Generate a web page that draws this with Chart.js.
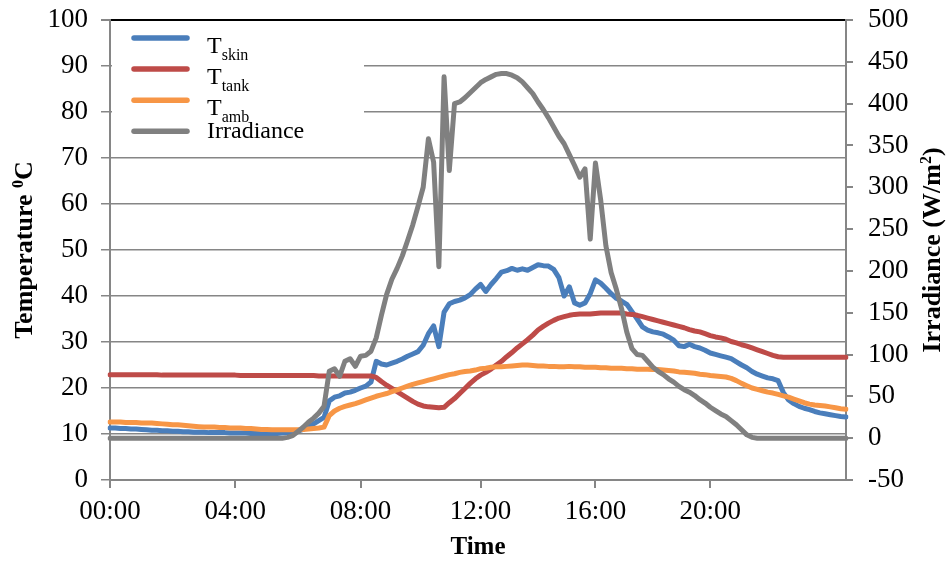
<!DOCTYPE html>
<html>
<head>
<meta charset="utf-8">
<script src="https://cdn.jsdelivr.net/npm/chart.js@4/dist/chart.umd.min.js"></script>
<style>
  body { margin: 0; background: #fff; }
  #wrap { width: 947px; height: 563px; }
</style>
</head>
<body>
<div id="wrap"><canvas id="chart" width="947" height="563"></canvas></div>
<script>
// logger sample times: [start minute, end minute, number of steps]
const sampleBlocks = [[0, 480, 48], [480, 720, 23], [720, 960, 22], [960, 1200, 22], [1200, 1420, 26]];
const xTickLabels = ["00:00", "04:00", "08:00", "12:00", "16:00", "20:00"];

const tSkin = [
  11.3, 11.3, 11.2, 11.2, 11.1, 11.1, 11.0, 10.9, 10.8, 10.8,
  10.7, 10.7, 10.6, 10.6, 10.5, 10.5, 10.4, 10.4, 10.4, 10.3,
  10.3, 10.3, 10.3, 10.2, 10.2, 10.2, 10.2, 10.1, 10.1, 10.1,
  10.1, 10.1, 10.1, 10.2, 10.3, 10.4, 10.6, 11.0, 11.6, 12.2,
  12.9, 13.6, 17.2, 18.0, 18.3, 18.9, 19.1, 19.5, 20.0, 20.4,
  21.3, 25.8, 25.2, 25.0, 25.4, 25.8, 26.3, 26.9, 27.4, 27.9,
  29.3, 31.8, 33.5, 29.0, 36.5, 38.3, 38.8, 39.1, 39.6, 40.3,
  41.5, 42.5, 41.0, 42.5, 43.8, 45.2, 45.5, 46.0, 45.6, 45.9,
  45.6, 46.2, 46.8, 46.6, 46.5, 45.8, 44.0, 40.0, 42.0, 38.5,
  38.0, 38.5, 40.5, 43.5, 42.8, 41.7, 40.5, 39.5, 38.9, 38.2,
  36.6, 35.0, 33.3, 32.6, 32.2, 32.0, 31.7, 31.1, 30.4, 29.2,
  29.0, 29.5, 29.0, 28.7, 28.2, 27.6, 27.3, 27.0, 26.7, 26.4,
  25.7, 25.0, 24.4, 23.6, 23.0, 22.6, 22.2, 22.0, 21.6, 19.0,
  17.4, 16.6, 16.0, 15.6, 15.3, 14.9, 14.6, 14.4, 14.2, 14.0,
  13.8, 13.7
];
const tTank = [
  22.9, 22.9, 22.9, 22.9, 22.9, 22.9, 22.9, 22.9, 22.9, 22.9,
  22.8, 22.8, 22.8, 22.8, 22.8, 22.8, 22.8, 22.8, 22.8, 22.8,
  22.8, 22.8, 22.8, 22.8, 22.8, 22.7, 22.7, 22.7, 22.7, 22.7,
  22.7, 22.7, 22.7, 22.7, 22.7, 22.7, 22.7, 22.7, 22.7, 22.7,
  22.6, 22.6, 22.6, 22.6, 22.6, 22.6, 22.6, 22.6, 22.6, 22.6,
  22.6, 22.3, 21.4, 20.6, 19.9, 19.2, 18.5, 17.8, 17.1, 16.5,
  16.1, 15.9, 15.8, 15.7, 15.8, 16.8, 17.7, 18.8, 19.9, 21.0,
  22.0, 22.8, 23.4, 24.1, 25.0, 25.8, 26.8, 27.7, 28.7, 29.6,
  30.5, 31.5, 32.6, 33.4, 34.1, 34.7, 35.2, 35.5, 35.8, 36.0,
  36.1, 36.1, 36.1, 36.2, 36.3, 36.3, 36.3, 36.3, 36.3, 36.1,
  36.0, 35.8, 35.5, 35.2, 34.9, 34.6, 34.3, 34.0, 33.7, 33.4,
  33.1, 32.7, 32.4, 32.2, 31.8, 31.4, 31.1, 30.9, 30.6, 30.1,
  29.8, 29.4, 29.1, 28.7, 28.3, 27.9, 27.5, 27.1, 26.8, 26.7,
  26.7, 26.7, 26.7, 26.7, 26.7, 26.7, 26.7, 26.7, 26.7, 26.7,
  26.7, 26.7
];
const tAmb = [
  12.6, 12.6, 12.6, 12.5, 12.5, 12.5, 12.4, 12.4, 12.4, 12.3,
  12.2, 12.1, 12.0, 12.0, 11.9, 11.8, 11.7, 11.6, 11.5, 11.5,
  11.5, 11.4, 11.4, 11.3, 11.3, 11.3, 11.2, 11.2, 11.1, 11.0,
  11.0, 10.9, 10.9, 10.9, 10.9, 10.9, 10.9, 11.0, 11.1, 11.2,
  11.3, 11.5, 14.0, 15.0, 15.6, 16.0, 16.3, 16.6, 17.0, 17.4,
  17.8, 18.2, 18.5, 18.8, 19.2, 19.6, 20.0, 20.4, 20.8, 21.1,
  21.4, 21.7, 22.0, 22.3, 22.6, 22.9, 23.1, 23.4, 23.6, 23.7,
  23.9, 24.2, 24.3, 24.5, 24.6, 24.6, 24.7, 24.8, 24.9, 25.0,
  25.0, 24.9, 24.8, 24.8, 24.7, 24.7, 24.6, 24.6, 24.7, 24.6,
  24.6, 24.5, 24.5, 24.5, 24.4, 24.4, 24.3, 24.3, 24.3, 24.2,
  24.2, 24.1, 24.1, 24.1, 24.0, 24.0, 23.9, 23.8, 23.7, 23.5,
  23.4, 23.3, 23.2, 23.0, 22.9, 22.7, 22.6, 22.5, 22.4, 22.1,
  21.6, 21.0, 20.5, 20.0, 19.7, 19.4, 19.1, 18.9, 18.6, 18.3,
  18.0, 17.6, 17.2, 16.8, 16.5, 16.3, 16.2, 16.1, 15.9, 15.7,
  15.5, 15.4
];
const irradiance = [
  0, 0, 0, 0, 0, 0, 0, 0, 0, 0,
  0, 0, 0, 0, 0, 0, 0, 0, 0, 0,
  0, 0, 0, 0, 0, 0, 0, 0, 0, 0,
  0, 0, 0, 0, 1, 3, 8, 13, 19, 24,
  30, 38, 80, 83, 74, 92, 95, 86, 98, 99,
  104, 120, 147, 172, 190, 203, 218, 236, 255, 277,
  300, 358, 330, 205, 432, 320, 400, 402, 407, 413,
  419, 425, 429, 432, 435, 436, 436, 434, 431, 426,
  419, 412, 402, 393, 383, 372, 361, 352, 339, 326,
  312, 322, 238, 329, 285, 230, 198, 178, 155, 127,
  107, 100, 99, 92, 85, 80, 76, 71, 67, 62,
  58, 55, 51, 46, 42, 37, 33, 29, 26, 21,
  16, 10, 4, 1, 0, 0, 0, 0, 0, 0,
  0, 0, 0, 0, 0, 0, 0, 0, 0, 0,
  0, 0
];

const seriesNames = ["T", "T", "T", "Irradiance"];
const seriesSubs = ["skin", "tank", "amb", ""];
const seriesColors = ["#4A7EBB", "#BE4B48", "#F79646", "#808080"];

function makeTimeLabels(blocks) {
  const out = [];
  blocks.forEach(([a, b, n], k) => {
    for (let j = (k === 0 ? 0 : 1); j <= n; j++) {
      const m = Math.round(a + (b - a) * j / n);
      out.push(String(Math.floor(m / 60)).padStart(2, "0") + ":" + String(m % 60).padStart(2, "0"));
    }
  });
  return out;
}
const timeLabels = makeTimeLabels(sampleBlocks);

const SERIF = '"Liberation Serif", "Times New Roman", serif';
const GRID = "#868686";

// draws a run of text pieces (normal / sup / sub) starting at x on baseline y
function drawRich(ctx, parts, x, y, align) {
  let w = 0;
  parts.forEach(p => { ctx.font = p.font; w += ctx.measureText(p.text).width; });
  let cx = align === "center" ? x - w / 2 : x;
  parts.forEach(p => {
    ctx.font = p.font;
    ctx.fillText(p.text, cx, y + (p.dy || 0));
    cx += ctx.measureText(p.text).width;
  });
}

const decorPlugin = {
  id: "decor",
  beforeDatasetsDraw(chart) {
    const ctx = chart.ctx;
    const top = chart.chartArea.top;
    ctx.save();
    // legend box sits over the gridlines
    ctx.fillStyle = "#fff";
    ctx.fillRect(112, top + 3, 252, 127);
    ctx.textAlign = "left";
    ctx.textBaseline = "alphabetic";
    ctx.fillStyle = "#000";
    seriesNames.forEach((name, i) => {
      const ly = top + 18 + i * 31.1;
      ctx.strokeStyle = seriesColors[i];
      ctx.lineWidth = 5.5;
      ctx.lineCap = "round";
      ctx.beginPath();
      ctx.moveTo(134, ly);
      ctx.lineTo(187, ly);
      ctx.stroke();
      if (seriesSubs[i]) {
        drawRich(ctx, [
          { text: name, font: "24px " + SERIF },
          { text: seriesSubs[i], font: "16px " + SERIF, dy: 7 }
        ], 207, ly + 15, "left");
      } else {
        drawRich(ctx, [{ text: name, font: "24px " + SERIF }], 207, ly + 7, "left");
      }
    });
    ctx.restore();
  },
  afterDraw(chart) {
    const ctx = chart.ctx;
    const midY = (chart.chartArea.top + chart.chartArea.bottom) / 2;
    ctx.save();
    ctx.fillStyle = "#000";
    ctx.textBaseline = "alphabetic";
    ctx.translate(32, midY);
    ctx.rotate(-Math.PI / 2);
    drawRich(ctx, [
      { text: "Temperature ", font: "bold 26px " + SERIF },
      { text: "0", font: "bold 16px " + SERIF, dy: -9 },
      { text: "C", font: "bold 26px " + SERIF }
    ], 0, 0, "center");
    ctx.restore();
    ctx.save();
    ctx.fillStyle = "#000";
    ctx.textBaseline = "alphabetic";
    ctx.translate(940, midY);
    ctx.rotate(-Math.PI / 2);
    drawRich(ctx, [
      { text: "Irradiance (W/m", font: "bold 26px " + SERIF },
      { text: "2", font: "bold 16px " + SERIF, dy: -9 },
      { text: ")", font: "bold 26px " + SERIF }
    ], 0, 0, "center");
    ctx.restore();
  }
};

const lineStyle = { pointRadius: 0, borderWidth: 5, tension: 0, fill: false, borderCapStyle: "round", borderJoinStyle: "round" };

function fixWidth(w) {
  return s => { s.width = w; s.paddingTop = 0; s.paddingBottom = 0; };
}

new Chart(document.getElementById("chart"), {
  type: "line",
  data: {
    labels: timeLabels,
    datasets: [
      { ...lineStyle, label: "Tskin", data: tSkin, borderColor: seriesColors[0], yAxisID: "y", order: 3 },
      { ...lineStyle, label: "Ttank", data: tTank, borderColor: seriesColors[1], yAxisID: "y", order: 2 },
      { ...lineStyle, label: "Tamb", data: tAmb, borderColor: seriesColors[2], yAxisID: "y", order: 1 },
      { ...lineStyle, label: "Irradiance", data: irradiance, borderColor: seriesColors[3], yAxisID: "y1", order: 0 }
    ]
  },
  options: {
    responsive: false,
    animation: false,
    devicePixelRatio: 1,
    layout: { padding: { top: 20, left: 0, right: 0, bottom: 0 } },
    plugins: { legend: { display: false }, tooltip: { enabled: false } },
    scales: {
      x: {
        type: "category",
        afterBuildTicks: s => { s.ticks = s.ticks.filter(t => xTickLabels.includes(timeLabels[t.value])); },
        afterFit: s => { s.height = 83; s.paddingLeft = 0; s.paddingRight = 0; },
        grid: { drawOnChartArea: false, drawTicks: true, tickLength: 8, color: GRID, lineWidth: 2 },
        border: { color: GRID, width: 2 },
        ticks: {
          autoSkip: false, maxRotation: 0, padding: 8, color: "#000",
          font: { family: SERIF, size: 27 },
          callback: function (v) { return this.getLabelForValue(v); }
        },
        title: { display: true, text: "Time", color: "#000", padding: 0, font: { family: SERIF, size: 25, weight: "bold" } }
      },
      y: {
        position: "left",
        min: 0, max: 100,
        afterFit: fixWidth(110),
        grid: {
          color: c => c.tick.value === 100 ? "#000" : GRID,
          lineWidth: c => c.tick.value === 100 ? 2 : 1.5,
          tickColor: GRID, tickLength: 9
        },
        border: { color: GRID, width: 2 },
        ticks: { stepSize: 10, padding: 13, color: "#000", font: { family: SERIF, size: 27 } }
      },
      y1: {
        position: "right",
        min: -50, max: 500,
        afterFit: fixWidth(101),
        grid: { drawOnChartArea: false, tickLength: 7, color: GRID, lineWidth: 2 },
        border: { color: GRID, width: 2 },
        ticks: { stepSize: 50, padding: 15, color: "#000", font: { family: SERIF, size: 27 } }
      }
    }
  },
  plugins: [decorPlugin]
});
</script>
</body>
</html>
